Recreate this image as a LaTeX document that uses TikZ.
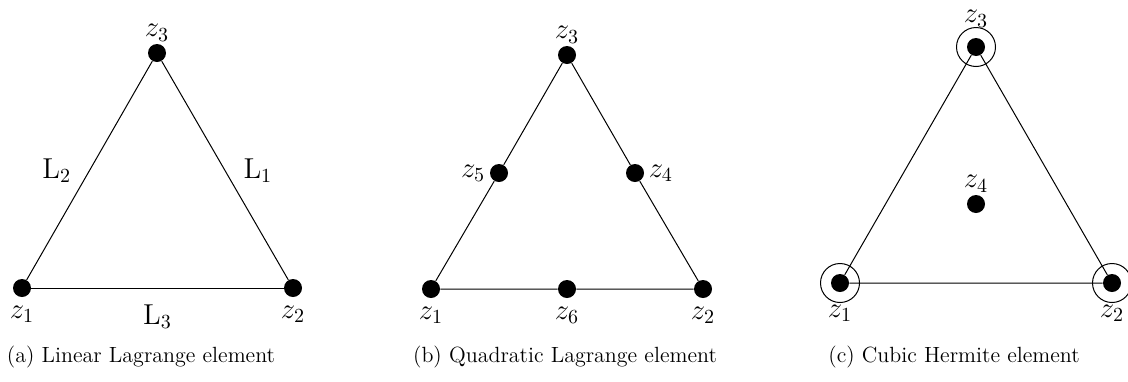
\documentclass[tikz,border=0pt]{standalone}
\usetikzlibrary{positioning}
\begin{document}
\begin{tikzpicture}[
    x=0.5pt, y=-0.5pt,
    dot/.style={circle, fill, inner sep=0pt, minimum size=9pt},
    edge/.style={line width=0.5pt},
    ring/.style={line width=0.5pt},
    lbl/.style={font=\fontsize{14}{16}\selectfont, inner sep=1pt},
    caption/.style={font=\fontsize{11}{13}\selectfont}
]
\useasboundingbox (0,0) rectangle (1128,381);

\node[dot, label={[lbl]above:$z_3$}] (a3) at (157,53) {};
\node[dot, label={[lbl, label distance=3pt]below:$z_1$}] (a1) at (22,288) {};
\node[dot, label={[lbl, label distance=3pt]below:$z_2$}] (a2) at (293,288) {};
\draw[edge] (a1) -- node[lbl, left=8pt] {$\mathrm{L}_2$} (a3);
\draw[edge] (a3) -- node[lbl, right=8pt] {$\mathrm{L}_1$} (a2);
\draw[edge] (a1) -- node[lbl, below=7pt] {$\mathrm{L}_3$} (a2);
\node[caption] (capa) at (141,357) {(a) Linear Lagrange element};

\node[dot, label={[lbl]above:$z_3$}] (b3) at (567,55) {};
\node[dot, label={[lbl, label distance=3pt]below:$z_1$}] (b1) at (431,289) {};
\node[dot, label={[lbl, label distance=3pt]below:$z_2$}] (b2) at (703,289) {};
\node[dot, label={[lbl, label distance=1pt]left:$z_5$}] (b5) at (499,173) {};
\node[dot, label={[lbl, label distance=1pt]right:$z_4$}] (b4) at (635,173) {};
\node[dot, label={[lbl, label distance=3pt]below:$z_6$}] (b6) at (567,289) {};
\draw[edge] (b1) -- (b5) -- (b3) -- (b4) -- (b2) -- (b6) -- (b1);
\node[caption] (capb) at (565,357) {(b) Quadratic Lagrange element};

\node[dot, label={[lbl, label distance=4pt]above:$z_3$}] (c3) at (976,47) {};
\node[dot, label={[lbl, label distance=5pt]below:$z_1$}] (c1) at (840,283) {};
\node[dot, label={[lbl, label distance=5pt]below:$z_2$}] (c2) at (1112,283) {};
\node[dot, label={[lbl]above:$z_4$}] (c4) at (976,204) {};
\draw[edge] (c1) -- (c3) -- (c2) -- (c1);
\foreach \v in {c1,c2,c3}
    \draw[ring] (\v) circle[radius=9.75pt];
\node[caption] (capc) at (954,357) {(c) Cubic Hermite element};
\end{tikzpicture}
\end{document}
